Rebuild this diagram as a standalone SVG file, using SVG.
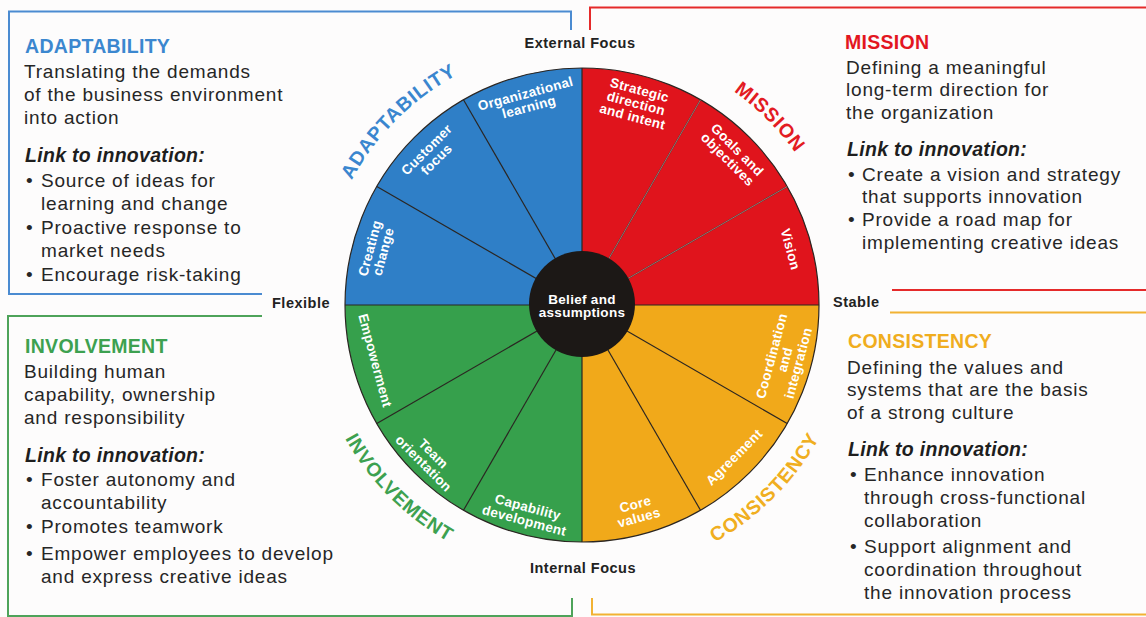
<svg xmlns="http://www.w3.org/2000/svg" width="1146" height="617" viewBox="0 0 1146 617">
  <style>
    .body { font-family: "Liberation Sans", Arial, sans-serif; font-size: 19px; letter-spacing: 0.8px; fill: #262626; }
    .head { font-family: "Liberation Sans", Arial, sans-serif; font-size: 19.5px; font-weight: bold; letter-spacing: 0.3px; }
    .link { font-family: "Liberation Sans", Arial, sans-serif; font-size: 19.5px; font-weight: bold; font-style: italic; letter-spacing: 0.3px; fill: #1e1e1e; }
    .axis { font-family: "Liberation Sans", Arial, sans-serif; font-size: 14.5px; font-weight: bold; letter-spacing: 0.5px; fill: #222; }
    .seg { font-family: "Liberation Sans", Arial, sans-serif; font-size: 13.5px; font-weight: bold; letter-spacing: 0.3px; fill: #fff; text-anchor: middle; }
    .arc { font-family: "Liberation Sans", Arial, sans-serif; font-size: 19.5px; font-weight: bold; letter-spacing: 0.8px; }
    .frame { fill: none; stroke-width: 2; }
    .divider { stroke: #2b2622; stroke-width: 1.2; }
  </style>
  <defs>
    <!-- baselines for the curved quadrant titles -->
    <path id="arcAdapt" d="M 320,305 A 262 262 0 0 1 582,43"/>
    <path id="arcMission" d="M 582,43 A 262 262 0 0 1 844,305"/>
    <path id="arcInvolve" d="M 310,305 A 272 272 0 0 0 582,577"/>
    <path id="arcConsist" d="M 582,577 A 272 272 0 0 0 854,305"/>
  </defs>

  <rect width="1146" height="617" fill="#fdfcfc"/>

  <!-- coloured frame lines around the four text panels -->
  <g id="frames">
    <polyline class="frame" stroke="#4b8bd1" points="262,294 9,294 9,11.5 571,11.5 571,30"/>
    <polyline class="frame" stroke="#e52a2a" points="590,30 590,7.5 1146,7.5"/>
    <line class="frame" stroke="#e52a2a" x1="892" y1="290" x2="1146" y2="290"/>
    <polyline class="frame" stroke="#4ea35a" points="262,316 8,316 8,616 572,616 572,598"/>
    <line class="frame" stroke="#f2b233" x1="890" y1="312.5" x2="1146" y2="312.5"/>
    <polyline class="frame" stroke="#f2b233" points="592,598 592,614.5 1146,614.5"/>
  </g>

  <!-- ADAPTABILITY panel -->
  <g id="panel-adaptability">
    <text class="head" x="25" y="53" fill="#3b87cf">ADAPTABILITY</text>
    <text class="body" x="24" y="78">Translating the demands</text>
    <text class="body" x="24" y="101">of the business environment</text>
    <text class="body" x="24" y="124">into action</text>
    <text class="link" x="25" y="162">Link to innovation:</text>
    <text class="body" x="26" y="186.5">•</text>
    <text class="body" x="41" y="186.5">Source of ideas for</text>
    <text class="body" x="41" y="210">learning and change</text>
    <text class="body" x="26" y="233.5">•</text>
    <text class="body" x="41" y="233.5">Proactive response to</text>
    <text class="body" x="41" y="257">market needs</text>
    <text class="body" x="26" y="281">•</text>
    <text class="body" x="41" y="281">Encourage risk-taking</text>
  </g>

  <!-- INVOLVEMENT panel -->
  <g id="panel-involvement">
    <text class="head" x="25" y="353" fill="#3da150">INVOLVEMENT</text>
    <text class="body" x="24" y="378">Building human</text>
    <text class="body" x="24" y="401">capability, ownership</text>
    <text class="body" x="24" y="424">and responsibility</text>
    <text class="link" x="25" y="462">Link to innovation:</text>
    <text class="body" x="26" y="485.5">•</text>
    <text class="body" x="41" y="485.5">Foster autonomy and</text>
    <text class="body" x="41" y="508.5">accountability</text>
    <text class="body" x="26" y="533">•</text>
    <text class="body" x="41" y="533">Promotes teamwork</text>
    <text class="body" x="26" y="559.5">•</text>
    <text class="body" x="41" y="559.5">Empower employees to develop</text>
    <text class="body" x="41" y="583">and express creative ideas</text>
  </g>

  <!-- MISSION panel -->
  <g id="panel-mission">
    <text class="head" x="845" y="49" fill="#e3161f">MISSION</text>
    <text class="body" x="846" y="73.5">Defining a meaningful</text>
    <text class="body" x="846" y="96">long-term direction for</text>
    <text class="body" x="846" y="118.5">the organization</text>
    <text class="link" x="847" y="156">Link to innovation:</text>
    <text class="body" x="848" y="181">•</text>
    <text class="body" x="862" y="181">Create a vision and strategy</text>
    <text class="body" x="862" y="203">that supports innovation</text>
    <text class="body" x="848" y="226">•</text>
    <text class="body" x="862" y="226">Provide a road map for</text>
    <text class="body" x="862" y="249">implementing creative ideas</text>
  </g>

  <!-- CONSISTENCY panel -->
  <g id="panel-consistency">
    <text class="head" x="848" y="348" fill="#f0ad1e">CONSISTENCY</text>
    <text class="body" x="847" y="373.5">Defining the values and</text>
    <text class="body" x="847" y="396">systems that are the basis</text>
    <text class="body" x="847" y="418.5">of a strong culture</text>
    <text class="link" x="848" y="455.5">Link to innovation:</text>
    <text class="body" x="850" y="480.5">•</text>
    <text class="body" x="864" y="480.5">Enhance innovation</text>
    <text class="body" x="864" y="503.5">through cross-functional</text>
    <text class="body" x="864" y="526.5">collaboration</text>
    <text class="body" x="850" y="552.5">•</text>
    <text class="body" x="864" y="552.5">Support alignment and</text>
    <text class="body" x="864" y="575.5">coordination throughout</text>
    <text class="body" x="864" y="598.5">the innovation process</text>
  </g>

  <!-- axis captions around the wheel -->
  <g id="axis-labels">
    <text class="axis" x="580" y="48" text-anchor="middle">External Focus</text>
    <text class="axis" x="583" y="573" text-anchor="middle">Internal Focus</text>
    <text class="axis" x="330" y="308" text-anchor="end">Flexible</text>
    <text class="axis" x="833" y="306.5">Stable</text>
  </g>

  <!-- culture wheel: four quadrants -->
  <g id="wheel">
    <path id="q-adaptability" d="M582,305 L345,305 A237,237 0 0 1 582,68 Z" fill="#2f7fc7"/>
    <path id="q-mission" d="M582,305 L582,68 A237,237 0 0 1 819,305 Z" fill="#e0141c"/>
    <path id="q-consistency" d="M582,305 L819,305 A237,237 0 0 1 582,542 Z" fill="#f1a91a"/>
    <path id="q-involvement" d="M582,305 L582,542 A237,237 0 0 1 345,305 Z" fill="#36a04c"/>
    <circle cx="582" cy="305" r="237" fill="none" stroke="#2b2622" stroke-width="1.2"/>
  </g>

  <!-- segment dividers -->
  <g id="dividers">
    <line class="divider" x1="582" y1="68" x2="582" y2="542"/>
    <line class="divider" x1="345" y1="305" x2="819" y2="305"/>
    <line class="divider" x1="582" y1="305" x2="376.8" y2="186.5"/>
    <line class="divider" x1="582" y1="305" x2="463.5" y2="99.8"/>
    <line class="divider" x1="582" y1="305" x2="700.5" y2="99.8"/>
    <line class="divider" x1="582" y1="305" x2="787.2" y2="186.5"/>
    <line class="divider" x1="582" y1="305" x2="787.2" y2="423.5"/>
    <line class="divider" x1="582" y1="305" x2="700.5" y2="510.2"/>
    <line class="divider" x1="582" y1="305" x2="463.5" y2="510.2"/>
    <line class="divider" x1="582" y1="305" x2="376.8" y2="423.5"/>
    <line x1="582" y1="305" x2="700.5" y2="99.8" stroke="#f6c9c4" stroke-width="0.5"/>
    <line x1="582" y1="305" x2="787.2" y2="186.5" stroke="#f6c9c4" stroke-width="0.5"/>
  </g>

  <!-- centre: beliefs and assumptions -->
  <g id="core">
    <circle cx="582" cy="304" r="53" fill="#1c1816"/>
    <text class="seg" x="582" y="303.5" font-size="13">Belief and</text>
    <text class="seg" x="582" y="317" font-size="13">assumptions</text>
  </g>

  <!-- segment labels -->
  <g id="seg-creating-change" transform="translate(376.3 249.9) rotate(-75)">
    <text class="seg" y="-2.1">Creating</text><text class="seg" y="11.7">change</text>
  </g>
  <g id="seg-customer-focus" transform="translate(431.4 154.4) rotate(-45)">
    <text class="seg" y="-2.1">Customer</text><text class="seg" y="11.7">focus</text>
  </g>
  <g id="seg-org-learning" transform="translate(527.1 100.2) rotate(-15)">
    <text class="seg" y="-2.1">Organizational</text><text class="seg" y="11.7">learning</text>
  </g>
  <g id="seg-strategic" transform="translate(636.1 103.1) rotate(15)">
    <text class="seg" y="-9">Strategic</text><text class="seg" y="4.8">direction</text><text class="seg" y="18.6">and intent</text>
  </g>
  <g id="seg-goals" transform="translate(732.6 154.4) rotate(45)">
    <text class="seg" y="-2.1">Goals and</text><text class="seg" y="11.7">objectives</text>
  </g>
  <g id="seg-vision" transform="translate(790.6 249.1) rotate(75)">
    <text class="seg" y="4.8">Vision</text>
  </g>
  <g id="seg-coordination" transform="translate(784.8 359.4) rotate(-75)">
    <text class="seg" y="-9">Coordination</text><text class="seg" y="4.8">and</text><text class="seg" y="18.6">integration</text>
  </g>
  <g id="seg-agreement" transform="translate(734 457) rotate(-45)">
    <text class="seg" y="4.8">Agreement</text>
  </g>
  <g id="seg-core-values" transform="translate(637.1 510.7) rotate(-15)">
    <text class="seg" y="-2.1">Core</text><text class="seg" y="11.7">values</text>
  </g>
  <g id="seg-capability" transform="translate(526.1 513.6) rotate(15)">
    <text class="seg" y="-2.1">Capability</text><text class="seg" y="11.7">development</text>
  </g>
  <g id="seg-team" transform="translate(428.6 458.4) rotate(45)">
    <text class="seg" y="-2.1">Team</text><text class="seg" y="11.7">orientation</text>
  </g>
  <g id="seg-empowerment" transform="translate(375.3 360.4) rotate(75)">
    <text class="seg" y="4.8">Empowerment</text>
  </g>

  <!-- curved quadrant titles -->
  <g id="quadrant-titles">
    <text class="arc" fill="#3a86cf" text-anchor="middle"><textPath href="#arcAdapt" startOffset="50%">ADAPTABILITY</textPath></text>
    <text class="arc" fill="#e31b23" text-anchor="middle" letter-spacing="1.6"><textPath href="#arcMission" startOffset="50%">MISSION</textPath></text>
    <text class="arc" fill="#3da150" text-anchor="middle"><textPath href="#arcInvolve" startOffset="50%">INVOLVEMENT</textPath></text>
    <text class="arc" fill="#f0ae20" text-anchor="middle"><textPath href="#arcConsist" startOffset="50%">CONSISTENCY</textPath></text>
  </g>
</svg>
